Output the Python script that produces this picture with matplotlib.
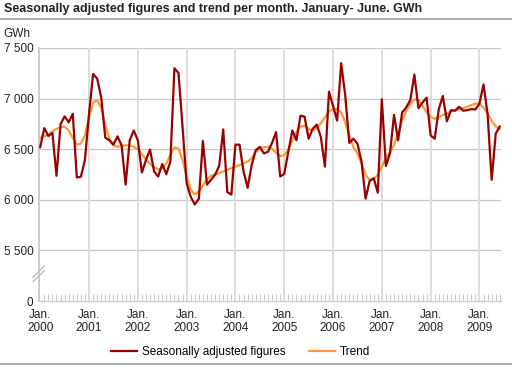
import matplotlib
matplotlib.use("Agg")
import matplotlib.pyplot as plt
from matplotlib.lines import Line2D

plt.rcParams["font.family"] = ["Liberation Sans", "DejaVu Sans"]

# monthly values, Jan 2000 - Jun 2009 (GWh)
seasonally_adjusted = [
    6520, 6708, 6630, 6660, 6237, 6747, 6825, 6766, 6850, 6220, 6228, 6395,
    6850, 7244, 7198, 7010, 6614, 6588, 6545, 6627, 6539, 6150, 6588, 6685,
    6588, 6270, 6393, 6497, 6280, 6230, 6354, 6253, 6377, 7300, 7253, 6717,
    6165, 6030, 5954, 6009, 6581, 6150, 6198, 6247, 6334, 6695, 6075, 6052,
    6545, 6545, 6280, 6118, 6345, 6490, 6523, 6458, 6474, 6562, 6669, 6230,
    6256, 6474, 6685, 6588, 6831, 6821, 6604, 6701, 6743, 6620, 6328, 7068,
    6929, 6783, 7350, 7030, 6562, 6604, 6555, 6380, 6012, 6185, 6214, 6070,
    6993, 6334, 6458, 6839, 6588, 6864, 6913, 6985, 7237, 6906, 6961, 7010,
    6636, 6604, 6896, 7026, 6776, 6886, 6880, 6919, 6880, 6886, 6896, 6893,
    6951, 7140, 6848, 6198, 6653, 6724,
]
trend = [
    6614, 6627, 6646, 6675, 6701, 6717, 6724, 6685, 6614, 6545, 6555, 6636,
    6815, 6961, 6984, 6912, 6734, 6604, 6539, 6523, 6532, 6539, 6539, 6523,
    6497, 6451, 6399, 6354, 6321, 6302, 6312, 6360, 6442, 6516, 6506, 6393,
    6230, 6100, 6052, 6084, 6139, 6205, 6237, 6253, 6263, 6280, 6296, 6312,
    6328, 6341, 6360, 6377, 6409, 6474, 6506, 6523, 6523, 6506, 6464, 6432,
    6442, 6490, 6588, 6669, 6724, 6734, 6701, 6685, 6711, 6756, 6815, 6873,
    6896, 6896, 6864, 6766, 6636, 6523, 6458, 6360, 6247, 6198, 6205, 6247,
    6328, 6409, 6474, 6539, 6653, 6782, 6880, 6945, 6994, 6984, 6929, 6864,
    6821, 6799, 6815, 6838, 6854, 6870, 6886, 6896, 6906, 6919, 6935, 6951,
    6951, 6912, 6854, 6782, 6724, 6700,
]
years = list(range(2000, 2010))
y_ticks = [5000, 5500, 6000, 6500, 7000, 7500]
y_labels = ["0", "5 500", "6 000", "6 500", "7 000", "7 500"]

months = list(range(len(seasonally_adjusted)))

fig = plt.figure(figsize=(5.12, 3.69), dpi=100)
ax = fig.add_axes([39 / 512, 1 - 301 / 369, 462 / 512, 253 / 369])

ax.plot(months, trend, color="#ff9933", lw=1.6, label="Trend", zorder=3)
ax.plot(months, seasonally_adjusted, color="#990000", lw=1.6,
        label="Seasonally adjusted figures", zorder=4)

ax.set_xlim(-0.3, 113.3)
ax.set_ylim(5000, 7500)

ax.set_yticks(y_ticks)
ax.set_yticklabels(y_labels, fontsize=8.5, color="#222222")
ax.set_xticks([12 * i for i in range(len(years))])
ax.set_xticklabels(["Jan.\n%d" % y for y in years], fontsize=8.5, color="#222222",
                   linespacing=1.05)
ax.set_xticks(months, minor=True)
ax.tick_params(axis="y", length=0, pad=4)
ax.tick_params(axis="x", which="major", length=0, pad=6)
ax.tick_params(axis="x", which="minor", direction="in", length=5, color="#cccccc", width=0.8)

for t in y_ticks[1:]:
    ax.axhline(t, color="#c8c8c8", lw=0.9, zorder=1)
for i in range(1, len(years)):
    ax.axvline(12 * i, color="#dddddd", lw=1.4, zorder=1)

for s in ["top", "right"]:
    ax.spines[s].set_visible(False)
ax.spines["left"].set_color("#cccccc")
ax.spines["left"].set_linewidth(1.4)
ax.spines["bottom"].set_color("#cccccc")
ax.spines["bottom"].set_linewidth(1.0)

# axis break marks
for dy in (0, 45):
    ax.add_line(Line2D([-1.8, 1.0], [5190 + dy, 5300 + dy], color="#bbbbbb", lw=0.9,
                       clip_on=False, zorder=5))

fig.text(3 / 512, 1 - 34 / 369, "GWh", fontsize=8.5, color="#222222", va="center")
fig.text(4 / 512, 1 - 9 / 369,
         "Seasonally adjusted figures and trend per month. January- June. GWh",
         fontsize=9, fontweight="bold", color="#222222", va="center")
fig.add_artist(Line2D([0, 1], [1 - 19 / 369] * 2, color="#999999", lw=1.2))
fig.add_artist(Line2D([0, 1], [1 - 364 / 369] * 2, color="#999999", lw=1.2))

handles, labels = ax.get_legend_handles_labels()
fig.legend(handles[::-1], labels[::-1], loc="center", ncol=2,
           bbox_to_anchor=(0.47, 1 - 352 / 369), frameon=False,
           fontsize=8.5, handlelength=2.2, columnspacing=2.0, handletextpad=0.4)

fig.savefig("out.png", dpi=100)
